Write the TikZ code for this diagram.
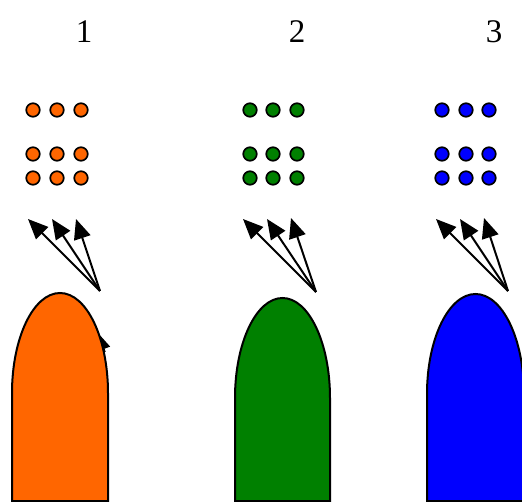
\documentclass[tikz,border=0pt]{standalone}
\usepackage{fontspec}
\setmainfont{Liberation Serif}
\usetikzlibrary{arrows.meta}
\definecolor{cOrange}{RGB}{255,102,0}
\definecolor{cGreen}{RGB}{0,128,0}
\definecolor{cBlue}{RGB}{0,0,255}
\tikzset{
  dot/.style={circle, draw=black, line width=1.7pt, inner sep=0pt, minimum size=13.5pt},
  ray/.style={line width=2pt, -{Triangle[length=20pt,width=17pt]}},
  bullet/.style={draw=black, line width=2pt},
  numlabel/.style={font=\fontsize{33}{36}\selectfont, inner sep=0pt}
}
\begin{document}
\begin{tikzpicture}[x=1pt,y=-1pt]
\useasboundingbox (0,0) rectangle (522,502);
% labels
\node[numlabel] (l1) at (84,32) {1};
\node[numlabel] (l2) at (297,32) {2};
\node[numlabel] (l3) at (494,32) {3};
% small arrow tip on orange edge (partly hidden by the shape)
\coordinate (e1) at (105,352);
\coordinate (e2) at (98,333);
\draw[line width=1.5pt, -{Triangle[length=17pt,width=13pt]}] (e1) -- (e2);
% bullet shapes
\draw[bullet, fill=cOrange] (12,501) -- (12,393) arc[start angle=180, end angle=360, x radius=48, y radius=100] -- (108,501) -- cycle;
\draw[bullet, fill=cGreen] (235,501) -- (235,398) arc[start angle=180, end angle=360, x radius=47.5, y radius=100] -- (330,501) -- cycle;
\draw[bullet, fill=cBlue] (427,501) -- (427,394) arc[start angle=180, end angle=360, x radius=48.5, y radius=100] -- (524,501) -- cycle;
% dot groups
\foreach \c/\xa/\xb/\xc/\n in {cOrange/33/57/81/a, cGreen/250/273/297/b, cBlue/442/466/489/c}{
  \foreach \yy/\r in {110/1,154/2,178/3}{
    \node[dot, fill=\c] (d\n\r1) at (\xa,\yy) {};
    \node[dot, fill=\c] (d\n\r2) at (\xb,\yy) {};
    \node[dot, fill=\c] (d\n\r3) at (\xc,\yy) {};
  }
}
% rays
\coordinate (sa) at (100,291);
\coordinate (ta1) at (28,219);
\coordinate (ta2) at (52,219);
\coordinate (ta3) at (76,219);
\coordinate (sb) at (316,292);
\coordinate (tb1) at (243,219);
\coordinate (tb2) at (267,219);
\coordinate (tb3) at (291,218);
\coordinate (sc) at (508,291);
\coordinate (tc1) at (436,219);
\coordinate (tc2) at (460,219);
\coordinate (tc3) at (484,218);
\foreach \s/\t in {sa/ta1,sa/ta2,sa/ta3,sb/tb1,sb/tb2,sb/tb3,sc/tc1,sc/tc2,sc/tc3}{
  \draw[ray] (\s) -- (\t);
}
\end{tikzpicture}
\end{document}
